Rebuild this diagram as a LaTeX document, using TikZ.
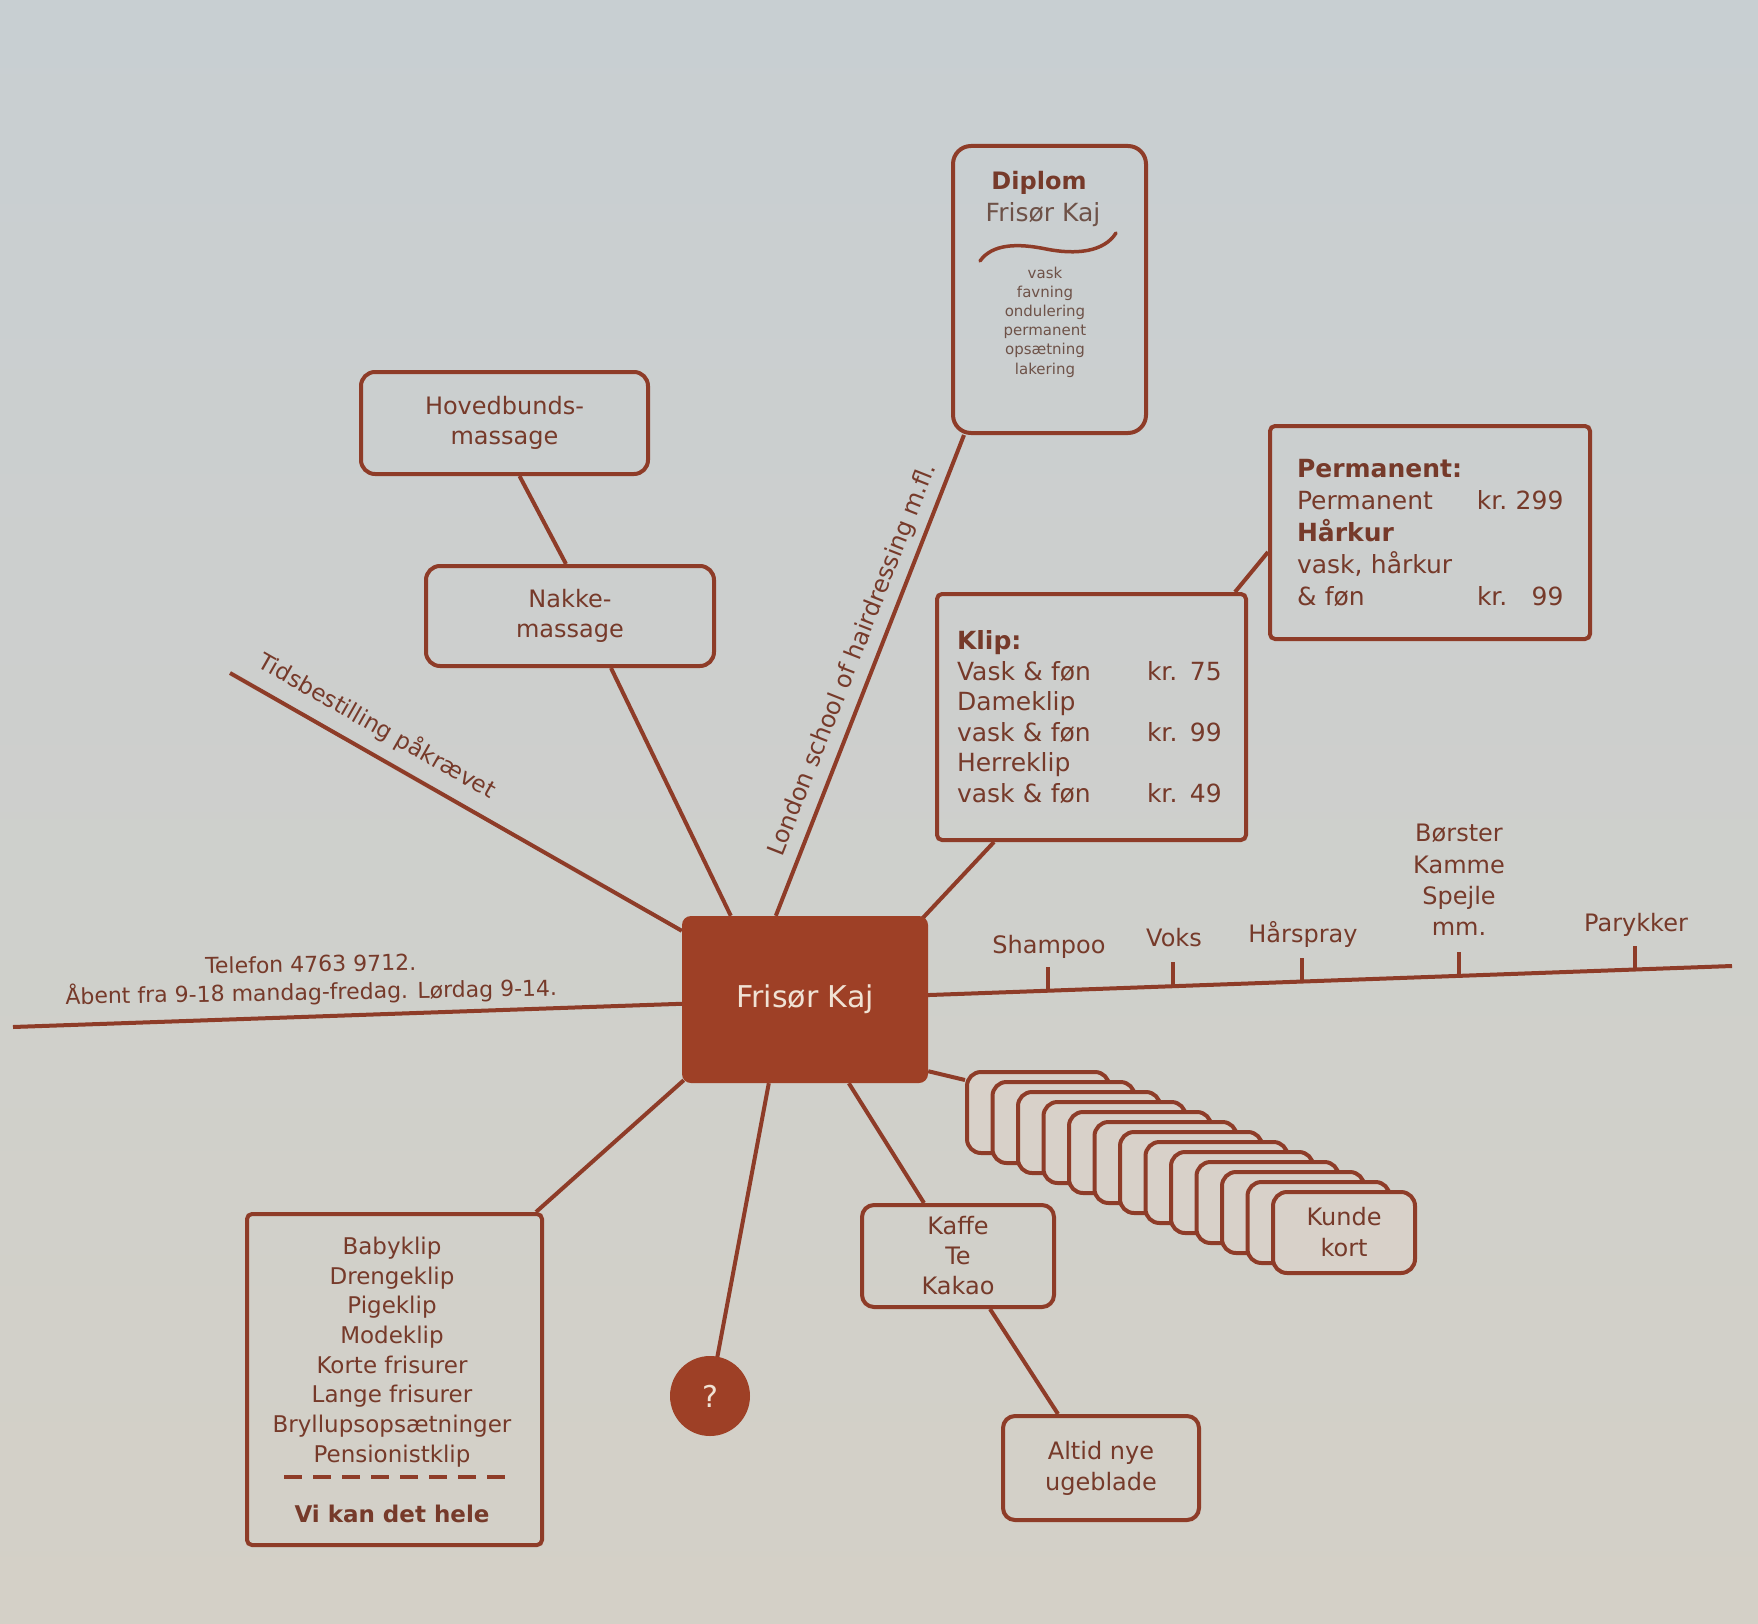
\documentclass[tikz,border=0pt]{standalone}
\usepackage{fontspec}
\setmainfont{DejaVu Sans}
\usetikzlibrary{calc}
\pgfdeclarelayer{bglayer}
\pgfdeclarelayer{linelayer}
\pgfsetlayers{bglayer,linelayer,main}
\definecolor{linec}{RGB}{142,60,40}
\definecolor{fillc}{RGB}{158,64,38}
\definecolor{textc}{RGB}{118,58,42}
\definecolor{greyc}{RGB}{110,82,72}
\definecolor{cream}{RGB}{240,226,212}
\definecolor{bgtop}{RGB}{200,207,210}
\definecolor{bgmid}{RGB}{221,223,219}
\definecolor{bgbot}{RGB}{212,208,199}
\definecolor{cardc}{RGB}{216,209,201}
\newcommand\fsz[2]{\fontsize{#1}{#2}\selectfont}
\tikzset{
  conn/.style={draw=linec, line width=4pt},
  box/.style={draw=linec, line width=4pt, text=textc, align=center, inner sep=0pt},
  txt/.style={text=textc, inner sep=0pt, align=center},
  card/.style={draw=linec, line width=4pt, fill=cardc, rounded corners=14pt,
    minimum width=142pt, minimum height=81pt, inner sep=0pt, text=textc, align=center},
  tick/.style={draw=linec, line width=4pt},
}
\begin{document}
\begin{tikzpicture}[x=1pt,y=-1pt]
\begin{pgfonlayer}{bglayer}
\shade[top color=bgtop, middle color=bgmid, bottom color=bgbot] (0,0) rectangle (1758,1624);
\end{pgfonlayer}
\useasboundingbox (0,0) rectangle (1758,1624);

% central node
\node[fill=fillc, rounded corners=9pt, minimum width=246pt, minimum height=167pt,
      inner sep=0pt, text=cream, font=\fsz{30}{36}] (fk) at (805,999.5) {Frisør Kaj};

% boxes
\node[box, minimum width=287pt, minimum height=102pt, rounded corners=14pt, font=\fsz{24}{30}]
  (hoved) at (504.5,423) {Hovedbunds-\\massage};
\node[box, minimum width=288pt, minimum height=100pt, rounded corners=14pt, font=\fsz{24}{30}]
  (nakke) at (570,616) {Nakke-\\massage};
\node[box, minimum width=193pt, minimum height=287pt, rounded corners=18pt]
  (diplom) at (1049.5,289.5) {};
\node[txt, font=\bfseries\fsz{24}{28}] (dip1) at (1039,183) {Diplom};
\node[txt, text=greyc, font=\fsz{25}{28}] (dip2) at (1043,215) {Frisør Kaj};
\draw[linec, line width=3.5pt, line cap=round] (980,261) .. controls (992,244) and (1017,243) .. (1046,249)
  .. controls (1076,255) and (1104,252) .. (1116,233);
\node[txt, text=greyc, font=\fsz{15}{19.2}] (diplist) at (1045,322)
  {vask\\favning\\ondulering\\permanent\\opsætning\\lakering};

\node[box, minimum width=309pt, minimum height=246pt, rounded corners=5pt, text width=269pt,
      align=left, font=\fsz{25}{30.5}] (klip) at (1091.5,717)
  {\textbf{Klip:}\\\makebox[190pt][l]{Vask \& føn}kr. 75\\Dameklip\\\makebox[190pt][l]{vask \& føn}kr. 99\\Herreklip\\\makebox[190pt][l]{vask \& føn}kr. 49};
\node[box, minimum width=320pt, minimum height=213pt, rounded corners=5pt, text width=266pt,
      align=left, font=\fsz{25}{32}] (perm) at (1430,532.5)
  {\textbf{Permanent:}\\\makebox[180pt][l]{Permanent}kr.~299\\\textbf{Hårkur}\\vask, hårkur\\\makebox[180pt][l]{\& føn}kr.~\phantom{2}99};

\node[box, minimum width=192pt, minimum height=102pt, rounded corners=12pt, font=\fsz{24}{30}]
  (kaffe) at (958,1256) {Kaffe\\Te\\Kakao};
\node[box, minimum width=196pt, minimum height=104pt, rounded corners=12pt, font=\fsz{24}{31}]
  (altid) at (1101,1468) {Altid nye\\ugeblade};

\node[circle, fill=fillc, minimum size=80pt, inner sep=0pt, text=cream, font=\fsz{30}{36}]
  (q) at (710,1396) {?};

\node[box, minimum width=295pt, minimum height=331pt, rounded corners=5pt] (listbox) at (394.5,1379.5) {};
\node[txt, font=\fsz{23}{29.7}] (list) at (392,1352)
  {Babyklip\\Drengeklip\\Pigeklip\\Modeklip\\Korte frisurer\\Lange frisurer\\Bryllupsopsætninger\\Pensionistklip};
\draw[linec, line width=4pt, dash pattern=on 18pt off 11pt]
  ($(listbox.south west)+(39,-70)$) -- ($(listbox.south east)+(-37,-70)$);
\node[txt, font=\bfseries\fsz{23}{28}] (vikan) at (392,1514) {Vi kan det hele};

% customer cards
\foreach \i in {0,...,11} {
  \node[card] (card\i) at ({1038+25.5*\i},{1112.5+10*\i}) {};
}
\node[card, font=\fsz{24}{31}] (kunde) at (1344,1232.5) {Kunde\\kort};

% labels
\coordinate (mL) at (13,1027);
\coordinate (mR) at (1732,966);
\coordinate (tidsA) at (230,673);
\node[txt, rotate=1, font=\fsz{22}{28}] (tel) at (311,980)
  {Telefon 4763 9712.\\Åbent fra 9-18 mandag-fredag. Lørdag 9-14.};
\node[txt, rotate=-29.7, font=\fsz{23}{28}] (tids) at (377,726) {Tidsbestilling påkrævet};
\node[txt, rotate=68.5, font=\fsz{24}{28}] (london) at (853,660) {London school of hairdressing m.fl.};

\coordinate (t1) at ($(fk.center)!0.262!(mR)$);
\coordinate (t2) at ($(fk.center)!0.397!(mR)$);
\coordinate (t3) at ($(fk.center)!0.536!(mR)$);
\coordinate (t4) at ($(fk.center)!0.706!(mR)$);
\coordinate (t5) at ($(fk.center)!0.895!(mR)$);
\node[txt, anchor=base, font=\fsz{24}{30}] (shampoo) at (1049,953) {Shampoo};
\node[txt, anchor=base, font=\fsz{24}{30}] (voks) at (1174,946) {Voks};
\node[txt, anchor=base, font=\fsz{24}{30}] (harspray) at (1303,942) {Hårspray};
\node[txt, font=\fsz{24}{31.3}] (borster) at (1459,880) {Børster\\Kamme\\Spejle\\mm.};
\node[txt, anchor=base, font=\fsz{24}{30}] (parykker) at (1636,931) {Parykker};

\begin{pgfonlayer}{linelayer}
\draw[conn] (mL) -- (fk.center) -- (mR);
\draw[tick] (t1) -- ++(0,-24);
\draw[tick] (t2) -- ++(0,-24);
\draw[tick] (t3) -- ++(0,-24);
\draw[tick] (t4) -- ++(0,-24);
\draw[tick] (t5) -- ++(0,-24);
\draw[conn] (tidsA) -- ($(fk.north west)+(0,15)$);
\draw[conn] ($(hoved.south)+(15,0)$) -- ($(nakke.north)+(-4,0)$);
\draw[conn] ($(nakke.south)+(41,0)$) -- ($(fk.north west)+(49,0)$);
\draw[conn] ($(fk.north west)+(94,0)$) -- ($(diplom.south west)+(13,0)$);
\draw[conn] ($(klip.south west)+(59,0)$) -- ($(fk.north east)+(-9,6)$);
\draw[conn] ($(perm.west)+(0,19.5)$) -- ($(klip.north east)+(-13,0)$);
\draw[conn] ($(fk.south east)+(0,-12)$) -- ($(card0.north west)+(0,10)$);
\draw[conn] ($(fk.south west)+(167,0)$) -- ($(kaffe.north west)+(64,0)$);
\draw[conn] ($(kaffe.south west)+(130,0)$) -- ($(altid.north west)+(57,0)$);
\draw[conn] ($(fk.south west)+(87,0)$) -- (q.center);
\draw[conn] ($(listbox.north east)+(-8,0)$) -- ($(fk.south west)+(2,-3)$);
\end{pgfonlayer}
\end{tikzpicture}
\end{document}
